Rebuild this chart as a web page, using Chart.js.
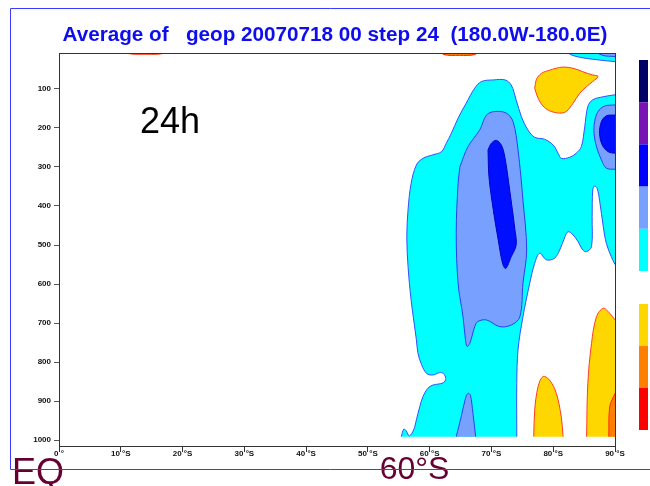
<!DOCTYPE html>
<html>
<head>
<meta charset="utf-8">
<script src="https://cdn.jsdelivr.net/npm/chart.js@4.4.0/dist/chart.umd.min.js"></script>
<style>
  html, body { margin: 0; padding: 0; background: #fff; }
</style>
</head>
<body>
<canvas id="chart" width="650" height="486"></canvas>
<script>
// geopotential cross-section, contour bands as [latitude °S, pressure hPa]

const latTicks = [0, 10, 20, 30, 40, 50, 60, 70, 80, 90];
const pressureTicks = [100, 200, 300, 400, 500, 600, 700, 800, 900, 1000];

// outer cyan band (main body + right-hand lobe)
const cyanBand = [
  [55.4, 991], [55.8, 972], [56.2, 976], [56.7, 989], [57.4, 974], [57.85, 948], [58.4, 914],
  [58.9, 889], [59.7, 867], [60.5, 859], [62.2, 853], [62.6, 842], [62.2, 829], [61.6, 827],
  [60.5, 833], [59.5, 829], [58.7, 807], [58.1, 777], [57.85, 743], [57.0, 641], [56.5, 555],
  [56.3, 479], [56.5, 410], [57.0, 342], [57.85, 295], [58.9, 278], [60.5, 269], [61.9, 261],
  [62.7, 239], [63.5, 214], [64.6, 175], [65.9, 137], [67.3, 98], [68.4, 81], [70.3, 77],
  [72.2, 77], [73.2, 90], [74.0, 128], [74.85, 171], [75.9, 205], [77.0, 224], [78.6, 229],
  [80.0, 244], [80.8, 265], [81.3, 278], [82.7, 275], [83.7, 265], [84.55, 248], [85.1, 197],
  [85.6, 145], [86.4, 128], [88.1, 120], [90, 115], [90, 550], [89.4, 530], [88.6, 496],
  [88.1, 453], [87.5, 385], [87.1, 355], [86.7, 349], [86.4, 359], [86.3, 427], [86.2, 504],
  [85.4, 517], [84.8, 513], [84.0, 491], [83.2, 474], [82.4, 466], [81.9, 479], [81.05, 513],
  [80.2, 534], [78.9, 538], [77.8, 521], [77.0, 547], [76.2, 598], [75.1, 684], [74.3, 769],
  [74.1, 855], [74.1, 991]
];
const cyanTopRight = [[82.4, 0], [82.6, 10], [84.3, 19], [86.4, 24], [88.6, 28], [90, 30], [90, 0]];

const lightBlueBand = [
  [64.9, 299], [66.2, 248], [68.1, 205], [69.2, 167], [70.5, 158], [72.4, 162], [73.5, 184],
  [74.3, 256], [75.1, 385], [75.7, 513], [75.1, 598], [74.6, 684], [73.2, 705], [71.3, 709],
  [69.2, 692], [67.8, 696], [67.3, 709], [66.5, 752], [66.05, 760], [65.8, 743], [65.4, 684],
  [64.6, 598], [64.3, 470], [64.6, 342]
];
const lightBlueFoot = [[64.3, 991], [65.1, 940], [65.8, 893], [66.2, 880], [66.6, 885], [67.0, 931], [67.45, 991]];
const lightBlueRight = [[90, 141], [88.3, 144], [87.25, 158], [86.7, 184], [86.6, 214], [87.0, 248], [87.8, 282], [88.6, 303], [90, 306]];
const lightBlueTopRight = [[86.4, 0], [88.0, 14], [90, 17], [90, 0]];

const blueCore = [
  [69.45, 256], [70.0, 239], [70.8, 232], [71.6, 244], [72.15, 273], [72.95, 359], [73.8, 461],
  [74.0, 500], [73.2, 530], [72.3, 560], [71.8, 547], [71.1, 487], [70.3, 410], [69.6, 325]
];
const blueRight = [[90, 167], [88.6, 169], [87.8, 184], [87.5, 214], [87.95, 244], [88.9, 261], [90, 265]];

const yellowTop = [
  [77.0, 98], [77.3, 75], [78.1, 60], [79.4, 52], [80.5, 47], [81.6, 44], [83.2, 47], [84.8, 56],
  [86.3, 64], [87.25, 68], [86.4, 81], [85.4, 94], [84.3, 111], [83.2, 137], [82.1, 158],
  [81.0, 162], [79.4, 156], [78.3, 143], [77.5, 122]
];
const yellowBottomA = [[76.85, 991], [77.0, 923], [77.55, 863], [78.35, 837], [79.4, 846], [80.5, 880], [81.3, 940], [81.6, 991]];
const yellowBottomB = [[85.4, 991], [85.6, 855], [86.2, 752], [87.0, 684], [88.1, 662], [89.15, 675], [90, 692], [90, 991]];
const orangeBottom = [[89.0, 991], [89.15, 914], [90, 880], [90, 991]];
const orangeTopA = [[9.8, 0], [11, 9], [14, 11], [17, 9], [17.9, 0]];
const orangeTopB = [[61.6, 0], [62.3, 12], [64.8, 14], [67.3, 12], [68.1, 0]];

const titleText = 'Average of   geop 20070718 00 step 24  (180.0W-180.0E)';

const CYAN = '#00ffff', LIGHTBLUE = '#78a0ff', BLUE = '#0010ff', YELLOW = '#ffd700', ORANGE = '#ff8000';
const upperBar = ['#000066', '#7814b4', '#0000ff', '#78a0ff', '#00ffff'];
const lowerBar = ['#ffd700', '#ff8000', '#ff0000'];

const BOTTOM = 991;
const onEdge = pt => pt[1] >= BOTTOM || pt[1] <= 0 || pt[0] >= 90;
const sameEdge = (a, b) =>
  (a.y >= BOTTOM && b.y >= BOTTOM) || (a.x >= 90 && b.x >= 90) || (a.y <= 0 && b.y <= 0);

// closed ring; points on the plot edges are doubled so the curve keeps sharp corners there
function ring(pts) {
  const out = [];
  [...pts, pts[0]].forEach(pt => {
    out.push({ x: pt[0], y: pt[1] });
    if (onEdge(pt)) out.push({ x: pt[0], y: pt[1] });
  });
  return out;
}

// bottom -> top
const layers = [
  [cyanBand, CYAN, '#3050ff'],
  [cyanTopRight, CYAN, '#3050ff'],
  [lightBlueBand, LIGHTBLUE, '#2a40f0'],
  [lightBlueFoot, LIGHTBLUE, '#2a40f0'],
  [lightBlueRight, LIGHTBLUE, '#2a40f0'],
  [lightBlueTopRight, LIGHTBLUE, '#2a40f0'],
  [blueCore, BLUE, '#0000c0'],
  [blueRight, BLUE, '#0000c0'],
  [yellowTop, YELLOW, '#ff3a2a'],
  [yellowBottomA, YELLOW, '#ff3a2a'],
  [yellowBottomB, YELLOW, '#ff3a2a'],
  [orangeBottom, ORANGE, '#ff2a00'],
  [orangeTopA, ORANGE, '#ff1a00'],
  [orangeTopB, ORANGE, '#ff1a00'],
];

// each band: a filled shape (no border) and its contour line on top of it
const datasets = [];
layers.forEach(([pts, fillColor, lineColor], i) => {
  const common = {
    data: ring(pts),
    showLine: true,
    pointRadius: 0,
    pointHitRadius: 0,
    tension: 0.35,
  };
  datasets.push({
    ...common,
    fill: 'shape',
    backgroundColor: fillColor,
    borderColor: 'rgba(0,0,0,0)',
    borderWidth: 0,
    order: 2 * (layers.length - i) + 1,
  });
  datasets.push({
    ...common,
    fill: false,
    borderColor: lineColor,
    borderWidth: 1,
    order: 2 * (layers.length - i),
    segment: {
      borderColor: c => sameEdge(c.p0.parsed, c.p1.parsed) ? 'rgba(0,0,0,0)' : undefined,
    },
  });
});

const tickFont = { family: '"Liberation Sans", Arial, sans-serif', size: 8, weight: 'bold' };

const decor = {
  id: 'decor',
  afterDraw(chart) {
    const { ctx, chartArea: a } = chart;
    ctx.save();

    // plot frame top / right
    ctx.strokeStyle = '#333';
    ctx.lineWidth = 1;
    ctx.strokeRect(Math.round(a.left) + 0.5, Math.round(a.top) + 0.5,
      Math.round(a.right - a.left), Math.round(a.bottom - a.top));

    // title
    ctx.fillStyle = '#0d0df0';
    ctx.font = 'bold 20.7px "Liberation Sans", Arial, sans-serif';
    ctx.textAlign = 'center';
    ctx.textBaseline = 'alphabetic';
    ctx.fillText(titleText, 335, 40.5);

    // colour bar
    upperBar.forEach((c, i) => { ctx.fillStyle = c; ctx.fillRect(639, 60 + i * 42.2, 9, 42.2); });
    lowerBar.forEach((c, i) => { ctx.fillStyle = c; ctx.fillRect(639, 304 + i * 42, 9, 42); });

    // annotations
    ctx.textAlign = 'left';
    ctx.fillStyle = '#000';
    ctx.font = '36px "Liberation Sans", Arial, sans-serif';
    ctx.fillText('24h', 140, 132.5);

    ctx.fillStyle = '#660033';
    ctx.fillText('EQ', 12, 484);
    ctx.font = '32px "Liberation Sans", Arial, sans-serif';
    ctx.textAlign = 'center';
    ctx.fillText('60°S', 414.5, 479);

    // page frame
    ctx.strokeStyle = '#3a3aff';
    ctx.beginPath();
    ctx.moveTo(651, 8.5);
    ctx.lineTo(10.5, 8.5);
    ctx.lineTo(10.5, 469.5);
    ctx.lineTo(651, 469.5);
    ctx.stroke();
    ctx.restore();
  },
};

new Chart(document.getElementById('chart'), {
  type: 'scatter',
  data: { datasets },
  options: {
    responsive: false,
    animation: false,
    events: [],
    layout: { padding: { top: 53, right: 35, bottom: 0, left: 0 } },
    plugins: { legend: { display: false }, tooltip: { enabled: false } },
    scales: {
      x: {
        type: 'linear',
        min: 0,
        max: 90,
        afterBuildTicks: s => { s.ticks = latTicks.map(v => ({ value: v })); },
        afterFit: s => { s.height = 40; },
        grid: { drawOnChartArea: false, tickLength: 6, color: '#333' },
        border: { color: '#222' },
        ticks: {
          callback: v => (v === 0 ? '0 °' : v + ' °S'),
          font: tickFont,
          color: '#111',
          padding: -3,
          maxRotation: 0,
          autoSkip: false,
        },
      },
      y: {
        type: 'linear',
        reverse: true,
        min: 8,
        max: 1015,
        afterBuildTicks: s => { s.ticks = pressureTicks.map(v => ({ value: v })); },
        afterFit: s => { s.width = 59; },
        grid: { drawOnChartArea: false, tickLength: 5, color: '#555' },
        border: { color: '#222' },
        ticks: { callback: v => String(v), font: tickFont, color: '#111', padding: 3, autoSkip: false },
      },
    },
  },
  plugins: [decor],
});
</script>
</body>
</html>
